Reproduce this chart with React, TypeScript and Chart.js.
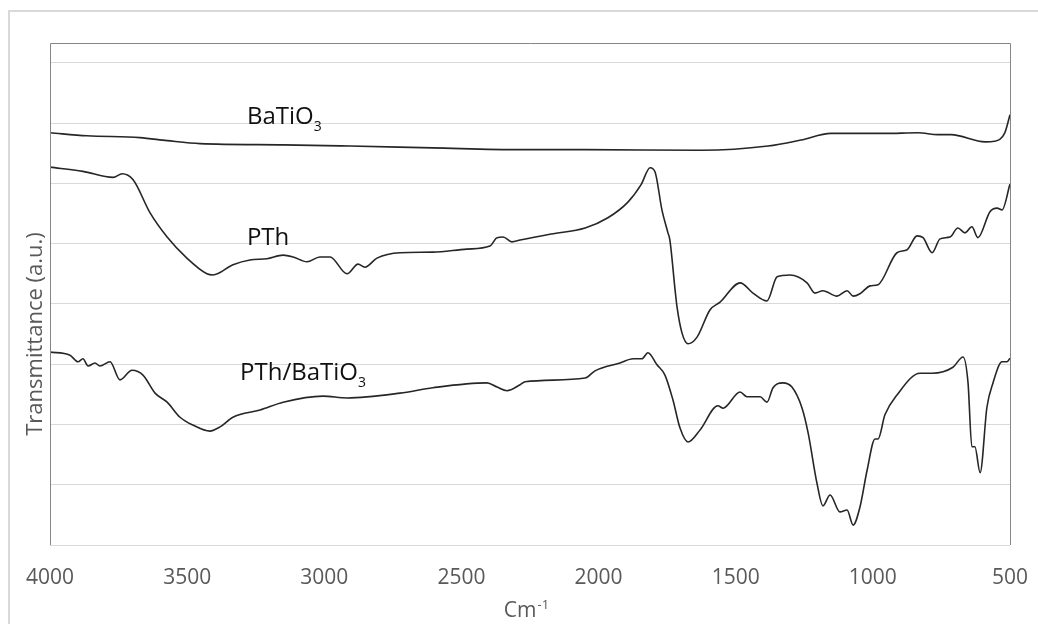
import React, { useEffect, useRef } from 'react';
import { Chart, registerables } from 'chart.js';

Chart.register(...registerables);

// ---- data (wavenumber in cm-1, transmittance in arbitrary units) ----
const batioWn = [4000, 3865, 3672, 3573, 3453, 3150, 2906, 2604, 2286, 2049, 1627, 1382, 1262, 1153, 956, 835, 763, 715, 591, 556, 519, 500];
const batioT = [6.84, 6.79, 6.76, 6.71, 6.66, 6.64, 6.62, 6.59, 6.56, 6.56, 6.55, 6.62, 6.72, 6.83, 6.83, 6.84, 6.81, 6.81, 6.69, 6.70, 6.84, 7.14];

const pthWn = [4000, 3880, 3770, 3737, 3697, 3635, 3573, 3501, 3428, 3406, 3333, 3271, 3209, 3150, 3114, 3063, 3016, 2979, 2917, 2877, 2852, 2808, 2724, 2604, 2480, 2396, 2370, 2348, 2316, 2286, 2173, 2049, 1966, 1893, 1845, 1812, 1794, 1769, 1747, 1740, 1721, 1714, 1696, 1674, 1641, 1594, 1557, 1484, 1437, 1386, 1349, 1302, 1240, 1211, 1182, 1131, 1094, 1072, 1047, 1010, 981, 912, 875, 839, 817, 784, 755, 719, 690, 664, 639, 617, 573, 547, 529, 500];
const pthT = [6.27, 6.20, 6.10, 6.16, 6.06, 5.51, 5.11, 4.76, 4.50, 4.48, 4.65, 4.73, 4.75, 4.81, 4.78, 4.70, 4.78, 4.78, 4.50, 4.66, 4.61, 4.76, 4.85, 4.86, 4.91, 4.96, 5.10, 5.11, 5.03, 5.06, 5.16, 5.26, 5.43, 5.69, 5.98, 6.26, 6.19, 5.56, 5.18, 5.06, 4.23, 3.95, 3.52, 3.34, 3.45, 3.90, 4.03, 4.35, 4.18, 4.05, 4.45, 4.48, 4.35, 4.18, 4.22, 4.13, 4.22, 4.13, 4.17, 4.30, 4.32, 4.85, 4.90, 5.13, 5.10, 4.85, 5.08, 5.11, 5.26, 5.18, 5.28, 5.10, 5.53, 5.59, 5.56, 5.99];

const compWn = [4000, 3927, 3898, 3880, 3861, 3836, 3818, 3781, 3745, 3701, 3661, 3617, 3573, 3526, 3479, 3417, 3380, 3333, 3234, 3150, 3005, 2917, 2724, 2604, 2407, 2370, 2334, 2286, 2268, 2049, 2013, 1922, 1874, 1842, 1820, 1787, 1758, 1729, 1703, 1674, 1630, 1565, 1546, 1484, 1459, 1411, 1386, 1364, 1328, 1295, 1258, 1236, 1204, 1182, 1156, 1120, 1094, 1072, 1047, 1021, 992, 981, 956, 912, 828, 784, 708, 671, 653, 639, 628, 609, 584, 562, 529, 511, 500];
const compT = [3.20, 3.15, 3.04, 3.09, 2.97, 3.02, 2.97, 3.04, 2.74, 2.90, 2.82, 2.52, 2.37, 2.12, 1.99, 1.89, 1.96, 2.12, 2.24, 2.37, 2.47, 2.44, 2.52, 2.61, 2.69, 2.62, 2.56, 2.66, 2.71, 2.77, 2.89, 3.02, 3.09, 3.09, 3.19, 2.99, 2.82, 2.41, 1.94, 1.71, 1.91, 2.31, 2.27, 2.54, 2.46, 2.46, 2.37, 2.61, 2.69, 2.62, 2.27, 1.86, 1.03, 0.65, 0.83, 0.55, 0.58, 0.33, 0.63, 1.24, 1.76, 1.76, 2.16, 2.49, 2.85, 2.85, 2.95, 3.12, 2.69, 1.63, 1.63, 1.20, 2.29, 2.69, 3.04, 3.04, 3.10];

const seriesNames = ['BaTiO3', 'PTh', 'PTh/BaTiO3'];

// in-plot labels: main text, subscript, anchor wavenumber, anchor transmittance (baseline)
const labelMain = ['BaTiO', 'PTh', 'PTh/BaTiO'];
const labelSub = ['3', '', '3'];
const labelWn = [3282, 3282, 3307];
const labelT = [6.99, 4.98, 2.74];

const xTicks = [4000, 3500, 3000, 2500, 2000, 1500, 1000, 500];
const xTitleMain = 'Cm';
const xTitleSup = '-1';
const yTitle = 'Transmittance (a.u.)';

const yMin = 0;
const yMax = 8.33;

const FONT = "'Open Sans', sans-serif";

const toPoints = (wn: number[], t: number[]) => wn.map((w, i) => ({ x: w, y: t[i] }));

const decorPlugin = {
  id: 'decor',
  beforeDraw(chart: any) {
    const ctx = chart.ctx;
    ctx.save();
    ctx.strokeStyle = '#d9d9d9';
    ctx.lineWidth = 2;
    ctx.strokeRect(9, 11, 1100, 700);
    ctx.restore();
  },
  afterDraw(chart: any) {
    const ctx = chart.ctx;
    const a = chart.chartArea;
    const xs = chart.scales.x;
    const ys = chart.scales.y;
    ctx.save();
    // plot border (left, top, right)
    ctx.strokeStyle = '#868686';
    ctx.lineWidth = 1;
    ctx.beginPath();
    ctx.moveTo(a.left + 0.5, a.bottom);
    ctx.lineTo(a.left + 0.5, a.top + 0.5);
    ctx.lineTo(a.right + 0.5, a.top + 0.5);
    ctx.lineTo(a.right + 0.5, a.bottom);
    ctx.stroke();

    // series labels
    ctx.fillStyle = '#111111';
    ctx.textBaseline = 'alphabetic';
    ctx.textAlign = 'left';
    for (let i = 0; i < labelMain.length; i++) {
      const px = xs.getPixelForValue(labelWn[i]);
      const py = ys.getPixelForValue(labelT[i]);
      ctx.font = `24px ${FONT}`;
      ctx.fillText(labelMain[i], px, py);
      const w = ctx.measureText(labelMain[i]).width;
      if (labelSub[i]) {
        ctx.font = `14px ${FONT}`;
        ctx.fillText(labelSub[i], px + w, py + 7);
      }
    }

    // x title with superscript
    ctx.fillStyle = '#595959';
    ctx.font = `21px ${FONT}`;
    const wMain = ctx.measureText(xTitleMain).width;
    ctx.font = `13px ${FONT}`;
    const wSup = ctx.measureText(xTitleSup).width;
    const cx = (a.left + a.right) / 2 - 4;
    const start = cx - (wMain + wSup) / 2;
    ctx.font = `21px ${FONT}`;
    ctx.fillText(xTitleMain, start, 617);
    ctx.font = `13px ${FONT}`;
    ctx.fillText(xTitleSup, start + wMain + 1, 609);

    // y title rotated
    ctx.font = `22px ${FONT}`;
    ctx.translate(36, 334);
    ctx.rotate(-Math.PI / 2);
    ctx.textAlign = 'center';
    ctx.textBaseline = 'middle';
    ctx.fillText(yTitle, 0, 0);
    ctx.restore();
  },
};

export default function App() {
  const ref = useRef<HTMLCanvasElement | null>(null);
  useEffect(() => {
    if (!ref.current) return;
    const lineStyle = {
      borderColor: '#262626',
      borderWidth: 1.6,
      pointRadius: 0,
      fill: false,
      cubicInterpolationMode: 'monotone' as const,
    };
    const chart = new Chart(ref.current, {
      type: 'line',
      data: {
        datasets: [
          { label: seriesNames[0], data: toPoints(batioWn, batioT), ...lineStyle },
          { label: seriesNames[1], data: toPoints(pthWn, pthT), ...lineStyle },
          { label: seriesNames[2], data: toPoints(compWn, compT), ...lineStyle },
        ],
      },
      options: {
        animation: false,
        responsive: false,
        layout: { padding: { top: 43, right: 28, left: 0, bottom: 0 } },
        plugins: { legend: { display: false }, tooltip: { enabled: false } },
        scales: {
          x: {
            type: 'linear',
            reverse: true,
            min: 500,
            max: 4000,
            afterFit: (s: any) => { s.height = 79; s.paddingLeft = 0; s.paddingRight = 0; },
            afterBuildTicks: (s: any) => { s.ticks = xTicks.map((v) => ({ value: v })); },
            grid: { display: false, drawTicks: false },
            border: { display: false },
            ticks: {
              autoSkip: false,
              maxRotation: 0,
              padding: 20,
              color: '#595959',
              font: { family: FONT, size: 21 },
              callback: (v: any) => String(v),
            },
          },
          y: {
            min: yMin,
            max: yMax,
            afterFit: (s: any) => { s.width = 50; s.paddingTop = 0; s.paddingBottom = 0; },
            grid: { color: '#d9d9d9', lineWidth: 1, drawTicks: false },
            border: { display: false },
            ticks: { display: false, stepSize: 1, includeBounds: false },
          },
        },
      },
      plugins: [decorPlugin],
    });
    return () => chart.destroy();
  }, []);
  return (
    <div style={{ position: 'absolute', left: 0, top: 0, width: 1038, height: 624, background: '#ffffff' }}>
      <canvas ref={ref} width={1038} height={624} style={{ display: 'block' }} />
    </div>
  );
}
